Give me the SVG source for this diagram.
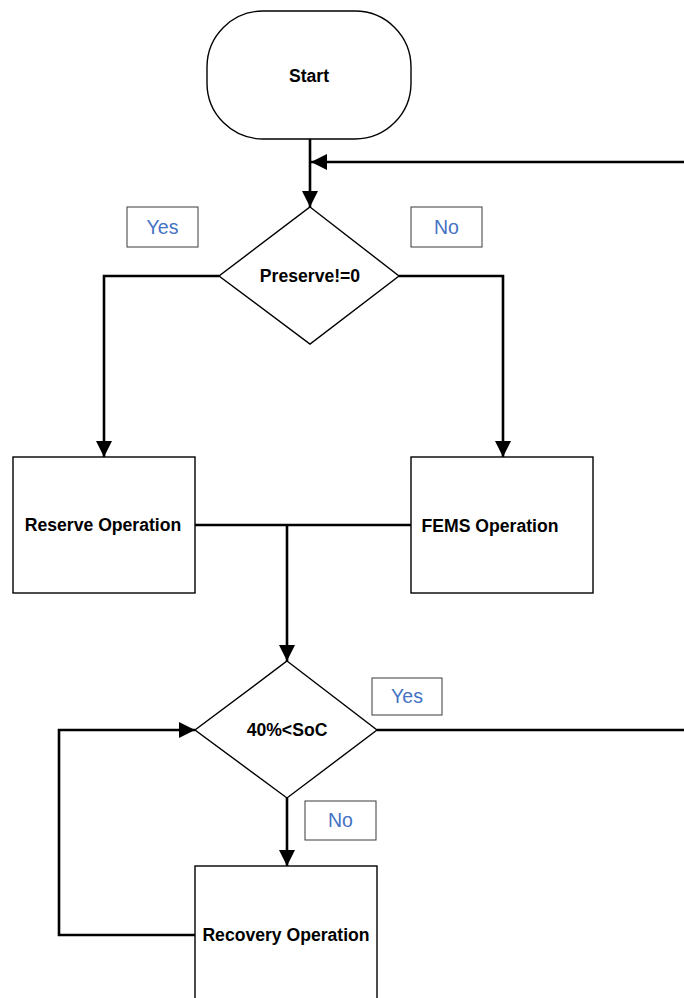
<svg xmlns="http://www.w3.org/2000/svg" width="684" height="998" viewBox="0 0 684 998">
  <style>
    .node { fill: #ffffff; stroke: #000000; stroke-width: 1.4; }
    .tag { fill: #ffffff; stroke: #3a3a3a; stroke-width: 1; }
    .wire { fill: none; stroke: #000000; stroke-width: 2.6; }
    .lbl { font-family: "Liberation Sans", Arial, sans-serif; font-weight: bold; font-size: 17.6px; fill: #000000; }
    .yn { font-family: "Liberation Sans", Arial, sans-serif; font-size: 19.5px; fill: #4472C4; text-anchor: middle; }
  </style>
  <defs>
    <marker id="arrow" viewBox="0 0 16 16" refX="16" refY="8" markerWidth="16" markerHeight="16" markerUnits="userSpaceOnUse" orient="auto">
      <path d="M0,0 L16,8 L0,16 Z" fill="#000000"/>
    </marker>
  </defs>

  <rect width="684" height="998" fill="#ffffff"/>

  <!-- connectors -->
  <g id="connectors">
    <line class="wire" x1="310" y1="139" x2="310" y2="207" marker-end="url(#arrow)"/>
    <line class="wire" x1="684" y1="162" x2="311" y2="162" marker-end="url(#arrow)"/>
    <polyline class="wire" points="219,276 104,276 104,457" marker-end="url(#arrow)"/>
    <polyline class="wire" points="399,276 503,276 503,457" marker-end="url(#arrow)"/>
    <line class="wire" x1="195" y1="525" x2="411" y2="525"/>
    <line class="wire" x1="287" y1="525" x2="287" y2="661" marker-end="url(#arrow)"/>
    <line class="wire" x1="377" y1="730" x2="684" y2="730"/>
    <line class="wire" x1="287" y1="798" x2="287" y2="866" marker-end="url(#arrow)"/>
    <polyline class="wire" points="195,935 59,935 59,730 195,730" marker-end="url(#arrow)"/>
  </g>

  <!-- start terminal -->
  <g id="start">
    <rect class="node" x="207" y="11" width="204" height="128" rx="56" ry="56"/>
    <text class="lbl" x="309" y="82" text-anchor="middle">Start</text>
  </g>

  <!-- first decision -->
  <g id="decision-preserve">
    <polygon class="node" points="310,207 399,276 310,344 219,276"/>
    <text class="lbl" x="310" y="282" text-anchor="middle">Preserve!=0</text>
  </g>
  <g id="tag-yes-1">
    <rect class="tag" x="127" y="207" width="71" height="40"/>
    <text class="yn" x="162.5" y="234">Yes</text>
  </g>
  <g id="tag-no-1">
    <rect class="tag" x="411" y="207" width="71" height="40"/>
    <text class="yn" x="446.5" y="234">No</text>
  </g>

  <!-- operation boxes -->
  <g id="reserve">
    <rect class="node" x="13" y="457" width="182" height="136"/>
    <text class="lbl" x="103" y="531" text-anchor="middle">Reserve Operation</text>
  </g>
  <g id="fems">
    <rect class="node" x="411" y="457" width="182" height="136"/>
    <text class="lbl" x="490" y="532" text-anchor="middle">FEMS Operation</text>
  </g>

  <!-- state of charge decision -->
  <g id="decision-soc">
    <polygon class="node" points="287,661 377,730 287,798 195,730"/>
    <text class="lbl" x="287" y="736" text-anchor="middle">40%&lt;SoC</text>
  </g>
  <g id="tag-yes-2">
    <rect class="tag" x="372" y="678" width="70" height="37"/>
    <text class="yn" x="407" y="703">Yes</text>
  </g>
  <g id="tag-no-2">
    <rect class="tag" x="305" y="801" width="71" height="39"/>
    <text class="yn" x="340.5" y="827">No</text>
  </g>

  <!-- recovery -->
  <g id="recovery">
    <rect class="node" x="195" y="866" width="182" height="140"/>
    <text class="lbl" x="286" y="941" text-anchor="middle">Recovery Operation</text>
  </g>
</svg>
